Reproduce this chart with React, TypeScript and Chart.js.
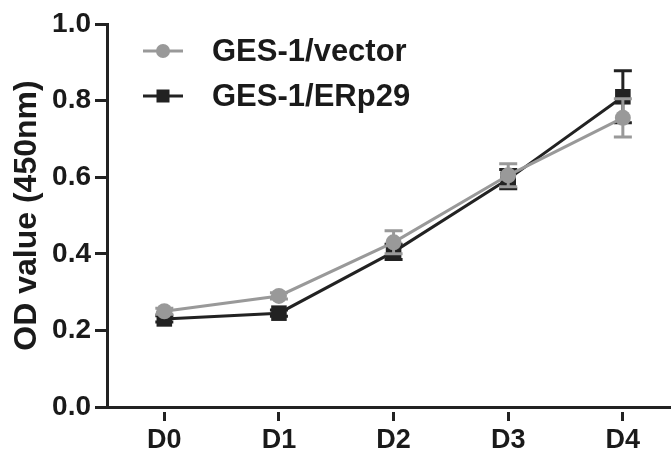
import { useEffect, useRef } from "react";
import { Chart, registerables } from "chart.js";

Chart.register(...registerables);

const categories = ["D0", "D1", "D2", "D3", "D4"];
const vectorLabel = "GES-1/vector";
const erp29Label = "GES-1/ERp29";
const vectorMean = [0.25, 0.29, 0.43, 0.605, 0.755];
const vectorErr = [0.008, 0.008, 0.03, 0.03, 0.05];
const erp29Mean = [0.23, 0.245, 0.405, 0.595, 0.81];
const erp29Err = [0.008, 0.008, 0.02, 0.025, 0.068];
const yTicks = [0, 0.2, 0.4, 0.6, 0.8, 1.0];

const FONT = "'Liberation Sans', Arial, sans-serif";
const GRAY = "#999999";
const BLACK = "#222222";
const TEXT = "#1a1a1a";

const errorBarPlugin = {
  id: "errorBars",
  beforeDatasetDraw(chart: any, args: any) {
    const ds = chart.data.datasets[args.index];
    const errs: number[] = ds.errors || [];
    const xs = chart.scales.x;
    const ys = chart.scales.y;
    const ctx = chart.ctx;
    ctx.save();
    ctx.strokeStyle = ds.borderColor;
    ctx.lineWidth = 3;
    ctx.lineCap = "butt";
    ds.data.forEach((p: any, i: number) => {
      const e = errs[i] || 0;
      const x = xs.getPixelForValue(p.x);
      const yTop = ys.getPixelForValue(p.y + e);
      const yBot = ys.getPixelForValue(p.y - e);
      ctx.beginPath();
      ctx.moveTo(x, yTop);
      ctx.lineTo(x, yBot);
      ctx.moveTo(x - 9, yTop);
      ctx.lineTo(x + 9, yTop);
      ctx.moveTo(x - 9, yBot);
      ctx.lineTo(x + 9, yBot);
      ctx.stroke();
    });
    ctx.restore();
  },
};

const legendPlugin = {
  id: "customLegend",
  afterDraw(chart: any) {
    const ctx = chart.ctx;
    const area = chart.chartArea;
    chart.data.datasets.forEach((ds: any, i: number) => {
      const y = area.top + 27 + i * 45;
      const x0 = area.left + 36;
      const x1 = area.left + 76;
      const cx = (x0 + x1) / 2;
      ctx.save();
      ctx.strokeStyle = ds.borderColor;
      ctx.fillStyle = ds.backgroundColor;
      ctx.lineWidth = 3;
      ctx.beginPath();
      ctx.moveTo(x0, y);
      ctx.lineTo(x1, y);
      ctx.stroke();
      if (ds.pointStyle === "rect") {
        const s = 13;
        ctx.fillRect(cx - s / 2, y - s / 2, s, s);
      } else {
        ctx.beginPath();
        ctx.arc(cx, y, 7, 0, Math.PI * 2);
        ctx.fill();
      }
      ctx.fillStyle = TEXT;
      ctx.font = `bold 31px ${FONT}`;
      ctx.textBaseline = "middle";
      ctx.textAlign = "left";
      ctx.fillText(ds.label, area.left + 105, y + 1);
      ctx.restore();
    });
  },
};

export default function App() {
  const ref = useRef<HTMLCanvasElement | null>(null);
  useEffect(() => {
    document.body.style.margin = "0";
    const canvas = ref.current;
    if (!canvas) return;
    const chart = new Chart(canvas, {
      type: "line",
      data: {
        datasets: [
          {
            label: vectorLabel,
            data: vectorMean.map((v, i) => ({ x: i, y: v })),
            errors: vectorErr,
            borderColor: GRAY,
            backgroundColor: GRAY,
            borderWidth: 3,
            pointStyle: "circle",
            pointRadius: 8,
            pointHoverRadius: 8,
            pointBorderWidth: 0,
            tension: 0,
          } as any,
          {
            label: erp29Label,
            data: erp29Mean.map((v, i) => ({ x: i, y: v })),
            errors: erp29Err,
            borderColor: BLACK,
            backgroundColor: BLACK,
            borderWidth: 3,
            pointStyle: "rect",
            pointRadius: 11,
            pointHoverRadius: 11,
            pointBorderWidth: 0,
            tension: 0,
          } as any,
        ],
      },
      options: {
        animation: false,
        responsive: false,
        maintainAspectRatio: false,
        events: [],
        layout: { autoPadding: false, padding: { left: 8, top: 24, right: 0, bottom: 0 } },
        plugins: {
          legend: { display: false },
          tooltip: { enabled: false },
        },
        scales: {
          x: {
            type: "linear",
            min: -0.5,
            max: 4.42,
            afterBuildTicks: (scale: any) => {
              scale.ticks = categories.map((_, i) => ({ value: i }));
            },
            afterFit: (scale: any) => {
              scale.height = 57;
              scale.paddingLeft = 0;
              scale.paddingRight = 0;
            },
            grid: {
              drawOnChartArea: false,
              drawTicks: true,
              tickLength: 14,
              tickWidth: 3,
              tickColor: BLACK,
              tickBorderDash: [0, 3, 11, 100],
            },
            border: { display: true, color: BLACK, width: 3 },
            ticks: {
              color: TEXT,
              font: { family: FONT, size: 27, weight: "bold" },
              padding: 3,
              maxRotation: 0,
              autoSkip: false,
              callback: (v: any) => categories[v as number] ?? "",
            },
          },
          y: {
            type: "linear",
            min: 0,
            max: 1,
            afterBuildTicks: (scale: any) => {
              scale.ticks = yTicks.map((v) => ({ value: v }));
            },
            afterFit: (scale: any) => {
              scale.width = 99;
              scale.paddingTop = 0;
              scale.paddingBottom = 0;
            },
            grid: {
              drawOnChartArea: false,
              drawTicks: true,
              tickLength: 12,
              tickWidth: 3,
              tickColor: BLACK,
            },
            border: { display: true, color: BLACK, width: 3 },
            ticks: {
              color: TEXT,
              font: { family: FONT, size: 28, weight: "bold" },
              padding: 4,
              callback: (v: any) => Number(v).toFixed(1),
            },
            title: {
              display: true,
              text: "OD value (450nm)",
              color: TEXT,
              font: { family: FONT, size: 32, weight: "bold" },
              padding: 0,
            },
          },
        },
      } as any,
      plugins: [errorBarPlugin, legendPlugin],
    });
    return () => chart.destroy();
  }, []);
  return (
    <div style={{ width: 671, height: 464 }}>
      <canvas ref={ref} width={671} height={464} style={{ width: 671, height: 464, display: "block" }} />
    </div>
  );
}
